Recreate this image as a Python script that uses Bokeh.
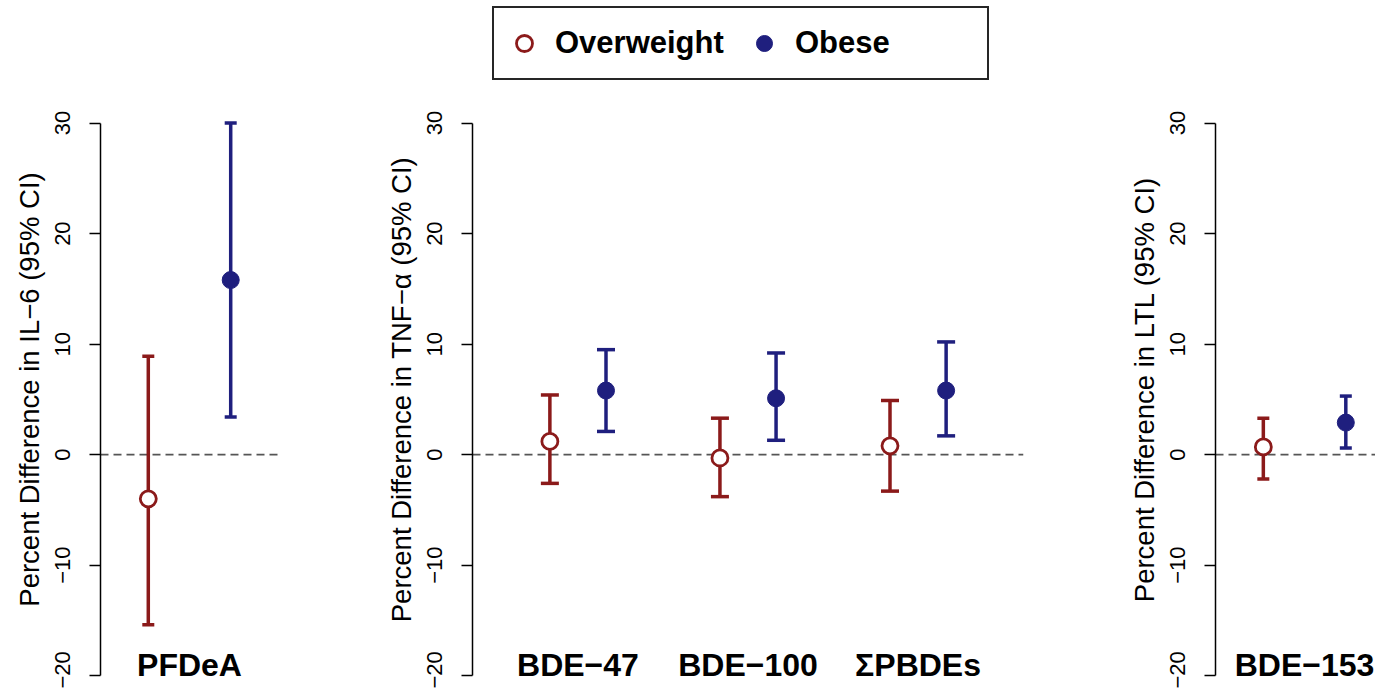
from bokeh.plotting import figure
from bokeh.models import (Range1d, LinearAxis, FixedTicker, CustomJSTickFormatter,
                          Whisker, TeeHead, Span, Legend, LegendItem, ColumnDataSource)
from bokeh.layouts import row, column
from bokeh.embed import file_html
from bokeh.resources import INLINE
from bokeh.core.properties import value
import numpy as np

# ---------------- data ----------------
y_ticks = [-20, -10, 0, 10, 20, 30]
legend_labels = ["Overweight", "Obese"]

p1_cats = ["PFDeA"]
p1_ov_est = [-4.0]
p1_ov_lo = [-15.4]
p1_ov_hi = [8.9]
p1_ob_est = [15.8]
p1_ob_lo = [3.4]
p1_ob_hi = [30.0]

p2_cats = ["BDE\u221247", "BDE\u2212100", "\u03a3PBDEs"]
p2_ov_est = [1.2, -0.3, 0.8]
p2_ov_lo = [-2.6, -3.8, -3.3]
p2_ov_hi = [5.4, 3.3, 4.9]
p2_ob_est = [5.8, 5.1, 5.8]
p2_ob_lo = [2.1, 1.3, 1.7]
p2_ob_hi = [9.5, 9.2, 10.2]

p3_cats = ["BDE\u2212153"]
p3_ov_est = [0.7]
p3_ov_lo = [-2.2]
p3_ov_hi = [3.3]
p3_ob_est = [2.9]
p3_ob_lo = [0.6]
p3_ob_hi = [5.3]

# ---------------- style ----------------
RED = "#8B1A1A"
BLUE = "#1F1F7E"
FONT = "Liberation Sans"
TOP_H = 90
PANEL_H = 598
Y_LO, Y_HI = -21.16, 32.95
LABEL_Y = -19.0


def make_panel(cats, ov_est, ov_lo, ov_hi, ob_est, ob_lo, ob_hi,
               xr, width, bl, br, ylabel, offset, cap):
    p = figure(width=width, height=PANEL_H, x_range=Range1d(*xr), y_range=Range1d(Y_LO, Y_HI),
               output_backend="svg", toolbar_location=None,
               x_axis_location=None, y_axis_location=None,
               min_border_left=bl, min_border_right=br, min_border_top=0, min_border_bottom=0)
    p.outline_line_color = None
    p.xgrid.visible = False
    p.ygrid.visible = False
    p.background_fill_color = "white"
    p.border_fill_color = "white"

    ax = LinearAxis(bounds=(-20, 30), ticker=FixedTicker(ticks=y_ticks),
                    formatter=CustomJSTickFormatter(code="return tick < 0 ? '\\u2212' + Math.abs(tick) : String(tick);"),
                    axis_label=ylabel)
    ax.axis_line_width = 1.5
    ax.axis_line_color = "black"
    ax.major_tick_line_width = 1.5
    ax.major_tick_out = 11
    ax.major_tick_in = 0
    ax.minor_tick_out = 0
    ax.minor_tick_in = 0
    ax.major_label_orientation = "vertical"
    ax.major_label_text_font = FONT
    ax.major_label_text_font_size = "22px"
    ax.major_label_text_color = "black"
    ax.major_label_standoff = 19
    ax.axis_label_text_font = FONT
    ax.axis_label_text_font_size = "27.5px"
    ax.axis_label_text_font_style = "normal"
    ax.axis_label_text_color = "black"
    ax.axis_label_standoff = 8
    p.add_layout(ax, "left")

    p.add_layout(Span(location=0, dimension="width", line_color="#555555",
                      line_width=1.6, line_dash="8 5", level="underlay"))

    base = np.arange(1, len(cats) + 1)
    xo = base - offset
    xb = base + offset

    src_ov = ColumnDataSource(dict(x=xo, est=ov_est, lo=ov_lo, hi=ov_hi))
    src_ob = ColumnDataSource(dict(x=xb, est=ob_est, lo=ob_lo, hi=ob_hi))

    for src, col in ((src_ov, RED), (src_ob, BLUE)):
        w = Whisker(base="x", upper="hi", lower="lo", source=src, dimension="height",
                    line_color=col, line_width=3.5,
                    upper_head=TeeHead(size=cap, line_color=col, line_width=3.5),
                    lower_head=TeeHead(size=cap, line_color=col, line_width=3.5))
        p.add_layout(w)

    p.scatter("x", "est", source=src_ov, marker="circle", size=16,
              fill_color="white", line_color=RED, line_width=2.8)
    p.scatter("x", "est", source=src_ob, marker="circle", size=17,
              fill_color=BLUE, line_color=BLUE, line_width=1)

    p.text(x=base, y=[LABEL_Y] * len(cats), text=cats, text_align="center",
           text_baseline="alphabetic", text_font=value(FONT), text_font_style="bold",
           text_font_size="32px", text_color="black")
    return p


p1 = make_panel(p1_cats, p1_ov_est, p1_ov_lo, p1_ov_hi, p1_ob_est, p1_ob_lo, p1_ob_hi,
                (0.46, 1.54), 360, 100, 82, "Percent Difference in IL\u22126 (95% CI)", 0.25, 12)
p2 = make_panel(p2_cats, p2_ov_est, p2_ov_lo, p2_ov_hi, p2_ob_est, p2_ob_lo, p2_ob_hi,
                (0.38, 3.62), 740, 112, 77, "Percent Difference in TNF\u2212\u03b1 (95% CI)", 0.165, 18)
p3 = make_panel(p3_cats, p3_ov_est, p3_ov_lo, p3_ov_hi, p3_ob_est, p3_ob_lo, p3_ob_hi,
                (0.46, 1.43), 275, 115, 0, "Percent Difference in LTL (95% CI)", 0.25, 12)

# legend strip on top (legend glyphs only; NaN point is never drawn)
lg = figure(width=1375, height=TOP_H, x_range=Range1d(0, 1), y_range=Range1d(0, 1),
            output_backend="svg", toolbar_location=None,
            x_axis_location=None, y_axis_location=None,
            min_border_left=0, min_border_right=0, min_border_top=0, min_border_bottom=0)
lg.outline_line_color = None
lg.xgrid.visible = False
lg.ygrid.visible = False
r_ov = lg.scatter(x=[np.nan], y=[np.nan], marker="circle", fill_color="white",
                  line_color=RED, line_width=2.8)
r_ob = lg.scatter(x=[np.nan], y=[np.nan], marker="circle", fill_color=BLUE,
                  line_color=BLUE, line_width=1)

legend = Legend(items=[LegendItem(label=legend_labels[0], renderers=[r_ov]),
                       LegendItem(label=legend_labels[1], renderers=[r_ob])],
                location=(492, TOP_H - 80), orientation="horizontal", margin=0,
                padding=10, spacing=7, glyph_width=40, glyph_height=50,
                label_height=50, label_width=182, label_standoff=11,
                label_text_font=FONT, label_text_font_style="bold",
                label_text_font_size="31px", label_text_color="black",
                border_line_color="black", border_line_width=2, border_line_alpha=0.85,
                background_fill_color="white", background_fill_alpha=1.0)
lg.add_layout(legend)

layout = column(lg, row(p1, p2, p3))
open("out.html", "w").write(file_html(layout, INLINE))
